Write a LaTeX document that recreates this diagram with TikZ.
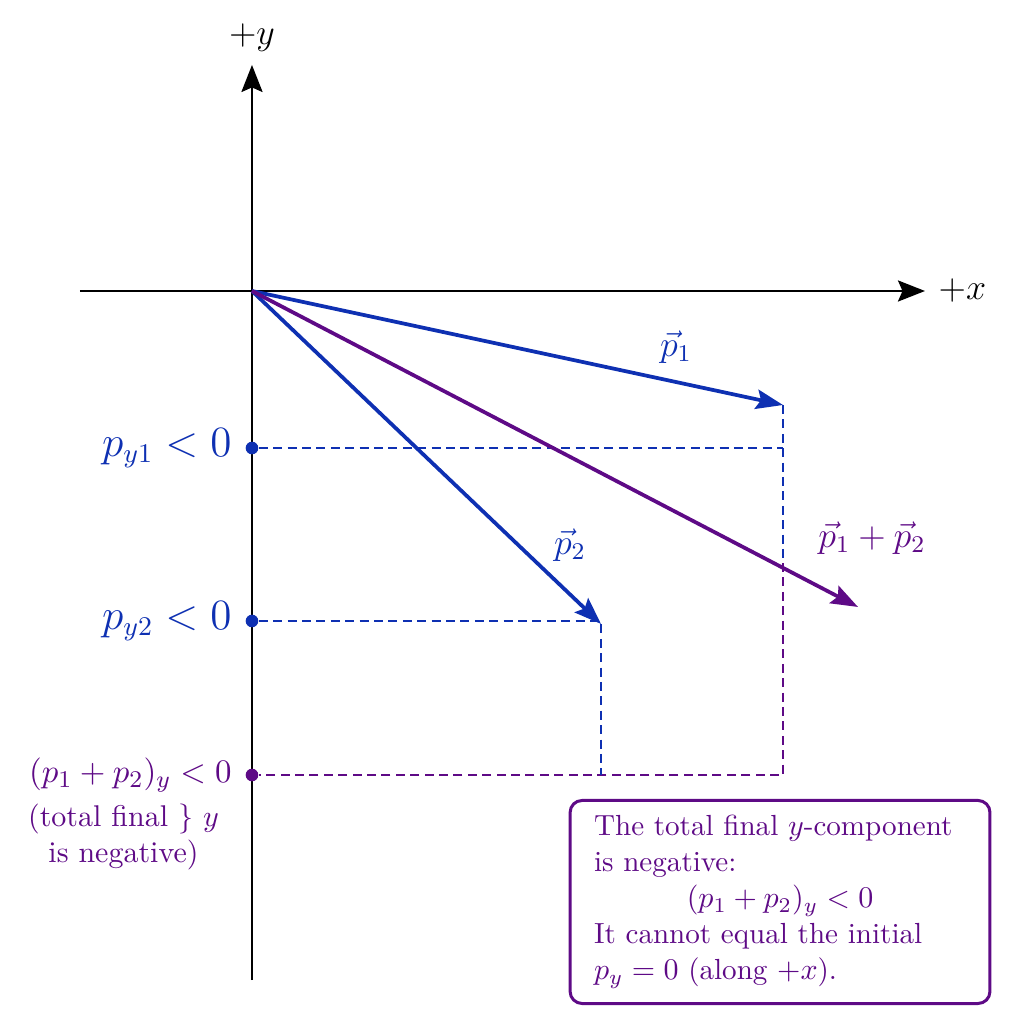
\documentclass[tikz,border=0pt]{standalone}
\usepackage{amsmath}
\usetikzlibrary{arrows.meta,positioning,calc}

\definecolor{vecblue}{RGB}{14,48,178}
\definecolor{sumpurple}{RGB}{94,10,134}

\begin{document}
\begin{tikzpicture}[
axis/.style={-{Stealth[length=9pt,width=7pt,inset=1.5pt]}, line width=0.9pt, black},
vecarrow/.style={-{Stealth[length=9pt,width=6.5pt,inset=1.5pt]}, line width=1.25pt},
guide/.style={dash pattern=on 3pt off 1.8pt, line width=0.55pt},
dot/.style={circle, fill, inner sep=0pt, minimum size=4.2pt},
]
\useasboundingbox (-2.953,-8.590) rectangle (9.047,3.410);

% axes
\coordinate (O) at (0,0);
\coordinate (xl) at (-2.016,0);
\coordinate (xr) at (7.887,0);
\coordinate (yb) at (0,-8.075);
\coordinate (yt) at (0,2.649);
\draw[axis] (xl) -- (xr);
\draw[axis] (yb) -- (yt);
\node[right=1pt of xr, font=\large] (xlabel) {$+x$};
\node[above=1pt of yt, font=\large] (ylabel) {$+y$};

% vector tips
\coordinate (P1) at (6.223,-1.336);
\coordinate (P2) at (4.090,-3.902);
\coordinate (S) at (7.102,-3.703);

% components on the y axis
\node[dot, vecblue] (dy1) at (0,-1.840) {};
\node[dot, vecblue] (dy2) at (0,-3.867) {};
\node[dot, sumpurple] (dys) at (0,-5.672) {};
\node[left=1pt of dy1, vecblue, font=\fontsize{13.5}{16}\selectfont] (ly1) {$p_{y1} < 0$};
\node[left=1pt of dy2, vecblue, font=\fontsize{13.5}{16}\selectfont] (ly2) {$p_{y2} < 0$};
\node[left=1pt of dys, sumpurple, font=\fontsize{11}{13}\selectfont] (lys) {$(p_1 + p_2)_y < 0$};
\node[below=-3pt of lys, xshift=-0.08cm, sumpurple, align=center] (lnote)
	{(total final \} $y$\\ is negative)};

% projections
\coordinate (cross) at (P1 |- 0,-3.188);
\draw[guide, vecblue] (dy1) -- (dy1 -| P1);
\draw[guide, vecblue] (P1) -- (cross);
\draw[guide, sumpurple] (cross) -- (dys -| P1) -- (dys);
\draw[guide, vecblue] (dy2) -- (dy2 -| P2) -- (P2 |- dys);

% vectors
\draw[vecarrow, vecblue] (O) -- (P1);
\draw[vecarrow, vecblue] (O) -- (P2);
\draw[vecarrow, sumpurple] (O) -- (S);
\node[vecblue, font=\large] (lp1) at (4.969,-0.656) {$\vec{p}_1$};
\node[vecblue, font=\large] (lp2) at (3.727,-2.977) {$\vec{p}_2$};
\node[sumpurple, font=\large] (lsum) at (7.266,-2.895) {$\vec{p}_1 + \vec{p}_2$};

% conclusion
\node[draw=sumpurple, line width=1pt, rounded corners=4pt, text=sumpurple,
	font=\fontsize{9.7}{12}\selectfont,
	text width=124pt, inner xsep=8pt, inner ysep=5pt, align=left]
	(note) at (6.188,-7.160)
	{The total final $y$-component\\
	is negative:\\
	\makebox[\linewidth][c]{$(p_1 + p_2)_y < 0$}\\
	It cannot equal the initial\\
	$p_y = 0$ (along $+x$).};
\end{tikzpicture}
\end{document}
